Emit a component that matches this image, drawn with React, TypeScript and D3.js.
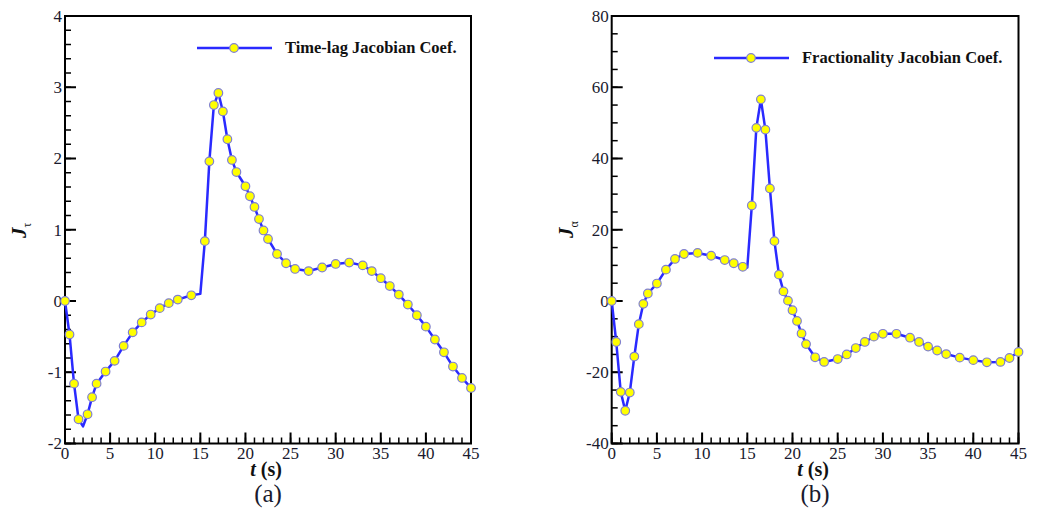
import React from 'react';
import * as d3 from 'd3';

// panel (a): time-lag jacobian coefficient
const tauT = [0, 0.5, 1, 1.5, 2, 2.5, 3, 3.5, 4.5, 5.5, 6.5, 7.5, 8.5, 9.5, 10.5, 11.5, 12.5, 14, 15, 15.5,
  16, 16.5, 17, 17.5, 18, 18.5, 19, 20, 20.5, 21, 21.5, 22, 22.5, 23.5, 24.5, 25.5, 27, 28.5, 30, 31.5,
  33, 34, 35, 36, 37, 38, 39, 40, 41, 42, 43, 44, 45];
const tauJ = [0, -0.47, -1.16, -1.66, -1.76, -1.59, -1.35, -1.16, -0.99, -0.84, -0.63, -0.44, -0.3, -0.19, -0.1, -0.03, 0.02, 0.08, 0.1, 0.84,
  1.96, 2.75, 2.92, 2.66, 2.27, 1.98, 1.81, 1.61, 1.47, 1.32, 1.15, 0.99, 0.87, 0.66, 0.53, 0.45, 0.42, 0.47, 0.52, 0.54,
  0.5, 0.42, 0.32, 0.21, 0.09, -0.05, -0.2, -0.36, -0.54, -0.72, -0.92, -1.08, -1.22];
const tauNoMarker = [2, 15];

// panel (b): fractionality jacobian coefficient
const alphaT = [0, 0.5, 1, 1.5, 2, 2.5, 3, 3.5, 4, 5, 6, 7, 8, 9.5, 11, 12.5, 13.5, 14.5, 15, 15.5,
  16, 16.5, 17, 17.5, 18, 18.5, 19, 19.5, 20, 20.5, 21, 21.5, 22.5, 23.5, 25, 26, 27, 28, 29, 30,
  31.5, 33, 34, 35, 36, 37, 38.5, 40, 41.5, 43, 44, 45];
const alphaJ = [0, -11.5, -25.5, -30.8, -25.7, -15.6, -6.5, -0.8, 2.1, 4.9, 8.8, 11.8, 13.2, 13.5, 12.7, 11.5, 10.6, 9.6, 9.4, 26.8,
  48.6, 56.6, 48.1, 31.6, 16.8, 7.4, 2.7, 0.1, -2.6, -5.6, -9.1, -12.1, -15.8, -17.1, -16.3, -15.0, -13.2, -11.5, -10.0, -9.2,
  -9.2, -10.3, -11.5, -12.8, -13.9, -14.9, -15.9, -16.6, -17.2, -17.1, -16.0, -14.3];
const alphaNoMarker = [15];

const xTicks = [0, 5, 10, 15, 20, 25, 30, 35, 40, 45];
const tauTicks = [-2, -1, 0, 1, 2, 3, 4];
const alphaTicks = [-40, -20, 0, 20, 40, 60, 80];

const FONT = "'Liberation Serif', Tinos, 'Times New Roman', 'DejaVu Serif', serif";
const BLUE = '#2a2aff';

type PanelProps = {
  t: number[];
  j: number[];
  noMarker: number[];
  yTicks: number[];
  yMinor: number;
  left: number;
  right: number;
  legend: string;
  legendX: number;
  legendY: number;
  sub: string;
  tag: string;
};

function Panel(props: PanelProps) {
  const { t, j, noMarker, yTicks, yMinor, left, right, legend, legendX, legendY, sub, tag } = props;
  const top = 16, bottom = 443.5;
  const x = d3.scaleLinear().domain([0, 45]).range([left, right]);
  const y = d3.scaleLinear().domain([yTicks[0], yTicks[yTicks.length - 1]]).range([bottom, top]);
  const pts = t.map((v, i) => ({ t: v, j: j[i] }));
  const line = d3.line<{ t: number; j: number }>().x(d => x(d.t)).y(d => y(d.j));
  const step = yTicks[1] - yTicks[0];
  const yMinorTicks = d3.range(yTicks[0], yTicks[yTicks.length - 1] + 1e-9, step / yMinor);
  const xMinorTicks = d3.range(0, 45.0001, 1);
  const cx = (left + right) / 2;
  const txt = { fontFamily: FONT };

  return (
    <g>
      {/* minor / major ticks, pointing inward */}
      {yMinorTicks.map((v, i) => (
        <line key={'ym' + i} x1={left} x2={left + 6} y1={y(v)} y2={y(v)} stroke="#000" strokeWidth={1.5} />
      ))}
      {yTicks.map(v => (
        <line key={'yM' + v} x1={left} x2={left + 11} y1={y(v)} y2={y(v)} stroke="#000" strokeWidth={2} />
      ))}
      {xMinorTicks.map(v => (
        <line key={'xm' + v} x1={x(v)} x2={x(v)} y1={bottom} y2={bottom - 6} stroke="#000" strokeWidth={1.5} />
      ))}
      {xTicks.map(v => (
        <line key={'xM' + v} x1={x(v)} x2={x(v)} y1={bottom} y2={bottom - 11} stroke="#000" strokeWidth={2} />
      ))}
      <rect x={left} y={top} width={right - left} height={bottom - top} fill="none" stroke="#000" strokeWidth={2} />

      {/* tick labels */}
      {yTicks.map(v => (
        <text key={'yl' + v} x={left - 3} y={y(v)} dy="0.35em" textAnchor="end" style={txt} fontSize={17} fill="#1a1a2e">
          {v}
        </text>
      ))}
      {xTicks.map(v => (
        <text key={'xl' + v} x={x(v)} y={459} textAnchor="middle" style={txt} fontSize={17} fill="#1a1a2e">
          {v}
        </text>
      ))}

      {/* data */}
      <path d={line(pts) || ''} fill="none" stroke={BLUE} strokeWidth={2.5} strokeLinejoin="round" />
      {pts.filter(d => !noMarker.includes(d.t)).map((d, i) => (
        <circle key={'p' + i} cx={x(d.t)} cy={y(d.j)} r={4.3} fill="#ffff00" stroke="#8080d0" strokeWidth={1.2} />
      ))}

      {/* legend */}
      <line x1={legendX} x2={legendX + 75} y1={legendY} y2={legendY} stroke={BLUE} strokeWidth={2.5} />
      <circle cx={legendX + 37} cy={legendY} r={4.3} fill="#ffff00" stroke="#8080d0" strokeWidth={1.2} />
      <text x={legendX + 88} y={legendY + 5} style={txt} fontWeight="bold" fontSize={16.5} fill="#111">
        {legend}
      </text>

      {/* axis titles */}
      <text x={cx - 2} y={476} textAnchor="middle" style={txt} fontWeight="bold" fontSize={20} fill="#111">
        <tspan fontStyle="italic">t</tspan> (s)
      </text>
      <text transform={`translate(${left - 39},238) rotate(-90)`} style={txt} fontWeight="bold" fontSize={21} fill="#111">
        <tspan fontStyle="italic">J</tspan>
        <tspan fontSize={12} dy={5} fontWeight="normal">{sub}</tspan>
      </text>
      <text x={cx} y={502} textAnchor="middle" style={txt} fontSize={25} fill="#1a1a2e">
        {tag}
      </text>
    </g>
  );
}

export default function App() {
  return (
    <svg width={1043} height={516} style={{ position: 'absolute', left: 0, top: 0, background: '#fff' }}>
      <Panel t={tauT} j={tauJ} noMarker={tauNoMarker} yTicks={tauTicks} yMinor={5} left={65} right={471}
        legend="Time-lag Jacobian Coef." legendX={197} legendY={48} sub="τ" tag="(a)" />
      <Panel t={alphaT} j={alphaJ} noMarker={alphaNoMarker} yTicks={alphaTicks} yMinor={4} left={611.7} right={1018.5}
        legend="Fractionality Jacobian Coef." legendX={714} legendY={58} sub="α" tag="(b)" />
    </svg>
  );
}
